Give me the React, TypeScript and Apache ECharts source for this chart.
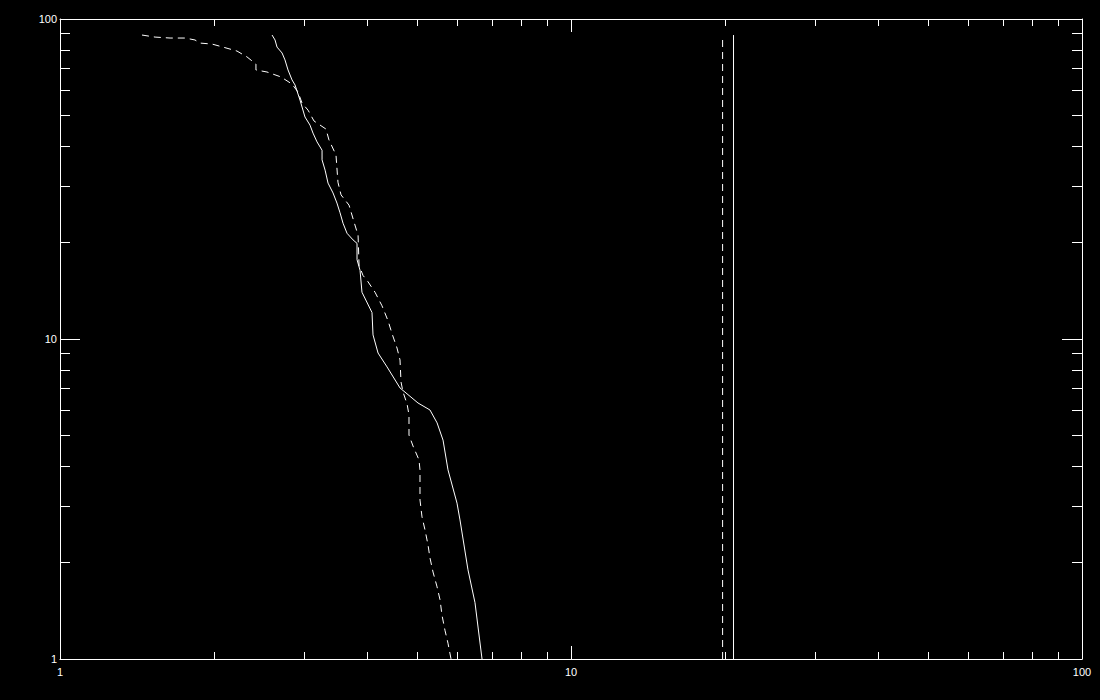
import React, { useEffect, useRef } from "react";
import * as echarts from "echarts";

// Solid cumulative curve (x, y)
const solidX = [2.6, 2.635, 2.659, 2.72, 2.756, 2.794, 2.845, 2.884, 2.949, 3.016, 3.085, 3.127, 3.184, 3.257, 3.257, 3.302, 3.346, 3.422, 3.483, 3.532, 3.58, 3.645, 3.745, 3.813, 3.813, 3.865, 3.899, 4.079, 4.098, 4.192, 4.365, 4.628, 5.019, 5.297, 5.469, 5.618, 5.745, 5.983, 6.064, 6.286, 6.488, 6.697];
const solidY = [89.1, 86.0, 81.7, 78.3, 74.5, 69.3, 64.5, 62.2, 55.8, 49.4, 46.6, 44.0, 41.3, 38.9, 36.3, 33.7, 30.7, 28.6, 26.6, 24.8, 23.0, 21.4, 20.4, 19.9, 17.7, 16.4, 14.0, 12.1, 10.3, 9.04, 8.18, 7.03, 6.31, 6.0, 5.47, 4.83, 3.9, 3.07, 2.72, 1.9, 1.5, 1.0];

// Dashed cumulative curve (x, y)
const dashedX = [1.447, 1.535, 1.642, 1.757, 1.837, 1.879, 1.984, 2.084, 2.22, 2.323, 2.418, 2.418, 2.541, 2.707, 2.845, 2.923, 2.976, 3.058, 3.141, 3.315, 3.36, 3.468, 3.499, 3.548, 3.678, 3.762, 3.831, 3.848, 3.917, 4.006, 4.135, 4.267, 4.385, 4.464, 4.566, 4.628, 4.649, 4.691, 4.777, 4.819, 4.819, 4.907, 5.041, 5.064, 5.064, 5.11, 5.18, 5.251, 5.297, 5.37, 5.469, 5.543, 5.592, 5.667, 5.745, 5.824];
const dashedY = [89.1, 87.8, 87.2, 87.2, 86.0, 84.1, 83.5, 81.7, 79.4, 76.1, 72.3, 69.3, 68.3, 65.9, 62.6, 59.1, 54.6, 51.9, 48.0, 45.3, 41.9, 37.6, 30.9, 28.2, 26.2, 23.2, 21.1, 17.0, 15.8, 15.1, 14.0, 12.7, 11.4, 10.4, 9.37, 8.6, 7.34, 6.83, 6.27, 5.79, 5.01, 4.63, 4.19, 3.9, 3.14, 2.78, 2.53, 2.27, 2.07, 1.87, 1.68, 1.53, 1.37, 1.23, 1.12, 1.0];

// Vertical reference lines
const dashedVLineX = 19.8;
const solidVLineX = 20.8;
const vLineY = [1, 89.1];

const pair = (xs: number[], ys: number[]) => xs.map((x, i) => [x, ys[i]]);

const WHITE = "#ffffff";
const FONT = "Liberation Sans";

function makeX(position: "bottom" | "top", showLabel: boolean) {
  return {
    type: "log",
    logBase: 10,
    min: 1,
    max: 100,
    position,
    gridIndex: 0,
    axisLine: { show: true, onZero: false, lineStyle: { color: WHITE, width: 1 } },
    axisTick: { show: true, inside: true, length: 13, lineStyle: { color: WHITE, width: 1 } },
    minorTick: { show: true, splitNumber: 9, length: 7, lineStyle: { color: WHITE, width: 1 } },
    axisLabel: { show: showLabel, color: WHITE, fontSize: 11, fontFamily: FONT, margin: 7, showMinLabel: true, showMaxLabel: true },
    splitLine: { show: false },
    minorSplitLine: { show: false },
  };
}

function makeY(position: "left" | "right", showLabel: boolean) {
  return {
    type: "log",
    logBase: 10,
    min: 1,
    max: 100,
    position,
    gridIndex: 0,
    axisLine: { show: true, onZero: false, lineStyle: { color: WHITE, width: 1 } },
    axisTick: { show: true, inside: true, length: 20, lineStyle: { color: WHITE, width: 1 } },
    minorTick: { show: true, splitNumber: 9, length: 10, lineStyle: { color: WHITE, width: 1 } },
    axisLabel: { show: showLabel, color: WHITE, fontSize: 11, fontFamily: FONT, margin: 3, showMinLabel: true, showMaxLabel: true },
    splitLine: { show: false },
    minorSplitLine: { show: false },
  };
}

export default function App() {
  const ref = useRef<HTMLDivElement>(null);
  useEffect(() => {
    if (!ref.current) return;
    const chart = echarts.init(ref.current, undefined, { renderer: "svg" });
    const lineBase = { type: "line", showSymbol: false, symbol: "none", silent: true, xAxisIndex: 0, yAxisIndex: 0 };
    chart.setOption({
      animation: false,
      backgroundColor: "#000000",
      grid: { left: 60, right: 18, top: 19, bottom: 41, containLabel: false, outerBoundsMode: "none" },
      xAxis: [makeX("bottom", true), makeX("top", false)],
      yAxis: [makeY("left", true), makeY("right", false)],
      series: [
        { ...lineBase, name: "solid", data: pair(solidX, solidY), lineStyle: { color: WHITE, width: 1, type: "solid" } },
        { ...lineBase, name: "dashed", data: pair(dashedX, dashedY), lineStyle: { color: WHITE, width: 1, type: [7, 5] } },
        { ...lineBase, name: "vdashed", data: vLineY.map((y) => [dashedVLineX, y]), lineStyle: { color: WHITE, width: 1, type: [7, 5] } },
        { ...lineBase, name: "vsolid", data: vLineY.map((y) => [solidVLineX, y]), lineStyle: { color: WHITE, width: 1, type: "solid" } },
      ],
    });
    return () => chart.dispose();
  }, []);
  return (
    <div
      ref={ref}
      style={{ position: "fixed", left: 0, top: 0, width: 1100, height: 700, background: "#000" }}
    />
  );
}
